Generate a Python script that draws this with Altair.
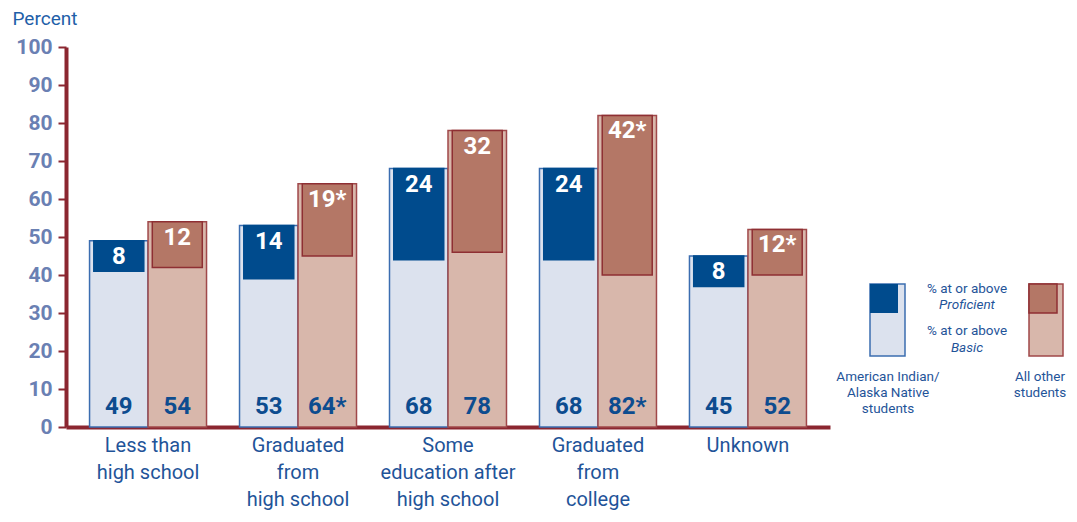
import altair as alt
import pandas as pd

categories = ["Less than|high school", "Graduated|from|high school",
              "Some|education after|high school", "Graduated|from|college", "Unknown"]
groups = ["American Indian/Alaska Native students", "All other students"]

aian_basic = [49, 53, 68, 68, 45]
aian_prof = [8, 14, 24, 24, 8]
other_basic = [54, 64, 78, 82, 52]
other_prof = [12, 19, 32, 42, 12]

aian_basic_lbl = ["49", "53", "68", "68", "45"]
aian_prof_lbl = ["8", "14", "24", "24", "8"]
other_basic_lbl = ["54", "64*", "78", "82*", "52"]
other_prof_lbl = ["12", "19*", "32", "42*", "12*"]

y_ticks = [0, 10, 20, 30, 40, 50, 60, 70, 80, 90, 100]

rows = []
for i, c in enumerate(categories):
    rows.append(dict(category=c, group=groups[0], basic=aian_basic[i], prof=aian_prof[i],
                     basic_lbl=aian_basic_lbl[i], prof_lbl=aian_prof_lbl[i]))
    rows.append(dict(category=c, group=groups[1], basic=other_basic[i], prof=other_prof[i],
                     basic_lbl=other_basic_lbl[i], prof_lbl=other_prof_lbl[i]))
df = pd.DataFrame(rows)
df["prof_low"] = df["basic"] - df["prof"]

AXIS_RED = "#8B2630"
DARK_BLUE = "#0D4C8F"
FONT = "Roboto"

x_enc = alt.X("category:N", sort=categories,
              scale=alt.Scale(paddingInner=0.22, paddingOuter=0.157),
              axis=alt.Axis(title=None, labelExpr="split(datum.label, '|')", labelAngle=0,
                            labelFontSize=20, labelColor="#1F5499", labelFont=FONT,
                            labelLineHeight=27, labelPadding=8, ticks=False,
                            domainColor=AXIS_RED, domainWidth=4, labelBaseline="top"))
xo_enc = alt.XOffset("group:N", sort=groups,
                     scale=alt.Scale(domain=groups, paddingInner=0, paddingOuter=0))
y_axis = alt.Axis(values=y_ticks, grid=False, labelOverlap=False,
                  title="Percent", titleAngle=0, titleX=-54, titleY=-29,
                  titleAlign="left", titleBaseline="middle", titleFontSize=19,
                  titleFontWeight="normal", titleColor="#1F5FA8", titleFont=FONT,
                  labelFontSize=21, labelFontWeight="bold", labelColor="#6A80B3",
                  labelFont=FONT, labelPadding=6,
                  tickColor=AXIS_RED, tickWidth=2, tickSize=8,
                  domainColor=AXIS_RED, domainWidth=4)
y_scale = alt.Scale(domain=[0, 100], nice=False)
y_enc = alt.Y("basic:Q", scale=y_scale, axis=y_axis)

base = alt.Chart(df).encode(x=x_enc, xOffset=xo_enc)

styles = {
    groups[0]: dict(outer_fill="#DCE2EE", outer_stroke="#3B6DB0",
                    prof_fill="#004B8D", prof_stroke="#004B8D"),
    groups[1]: dict(outer_fill="#D8B7AB", outer_stroke="#A0484A",
                    prof_fill="#B47766", prof_stroke="#8E2F33"),
}

layers = []
for g in groups:
    s = styles[g]
    sub = base.transform_filter(alt.datum.group == g)
    layers.append(sub.mark_bar(fill=s["outer_fill"], stroke=s["outer_stroke"], strokeWidth=1.5)
                  .encode(y=y_enc))
    layers.append(sub.mark_bar(fill=s["prof_fill"], stroke=s["prof_stroke"], strokeWidth=1.5,
                               width=50, xOffset=-4.25)
                  .encode(y=y_enc, y2="prof_low:Q"))
    layers.append(sub.mark_text(font=FONT, fontSize=24, fontWeight="bold", color="white",
                                baseline="middle", dy=16, xOffset=-4.25)
                  .encode(y=y_enc, text="prof_lbl:N"))
    layers.append(sub.mark_text(font=FONT, fontSize=24, fontWeight="bold", color=DARK_BLUE,
                                baseline="middle", dy=-20)
                  .encode(y=alt.datum(0, scale=y_scale, axis=y_axis), text="basic_lbl:N"))

# Legend (decorative key drawn at fixed pixel positions to the right of the plot)
key = alt.Chart(pd.DataFrame({"k": [0]}))
leg = [
    key.mark_rect(fill=styles[groups[0]]["outer_fill"], stroke=styles[groups[0]]["outer_stroke"],
                  strokeWidth=1.5).encode(x=alt.value(804), x2=alt.value(839),
                                          y=alt.value(237), y2=alt.value(309)),
    key.mark_rect(fill=styles[groups[0]]["prof_fill"]).encode(
        x=alt.value(804), x2=alt.value(832), y=alt.value(237), y2=alt.value(266)),
    key.mark_rect(fill=styles[groups[1]]["outer_fill"], stroke=styles[groups[1]]["outer_stroke"],
                  strokeWidth=1.5).encode(x=alt.value(963), x2=alt.value(997),
                                          y=alt.value(237), y2=alt.value(309)),
    key.mark_rect(fill=styles[groups[1]]["prof_fill"], stroke=styles[groups[1]]["prof_stroke"],
                  strokeWidth=1.5).encode(x=alt.value(963), x2=alt.value(991),
                                          y=alt.value(237), y2=alt.value(266)),
]
legend_texts = [
    ("% at or above", 901, 242, "normal"),
    ("Proficient", 901, 258, "italic"),
    ("% at or above", 901, 284, "normal"),
    ("Basic", 901, 301, "italic"),
    ("American Indian/", 822, 330, "normal"),
    ("Alaska Native", 822, 346, "normal"),
    ("students", 822, 362, "normal"),
    ("All other", 974, 330, "normal"),
    ("students", 974, 346, "normal"),
]
for t, xx, yy, st in legend_texts:
    leg.append(key.mark_text(text=t, font=FONT, fontSize=13.5, fontStyle=st, color="#1F5499",
                             align="center", baseline="middle")
               .encode(x=alt.value(xx), y=alt.value(yy)))

chart = alt.layer(*layers, *leg).properties(
    width=764, height=380,
    background="white",
    padding={"left": 58, "top": 39, "right": 239, "bottom": 87},
    autosize=alt.AutoSizeParams(type="none"),
).configure_view(stroke=None)

chart.save("out.html", embed_options={"renderer": "svg", "actions": False})
